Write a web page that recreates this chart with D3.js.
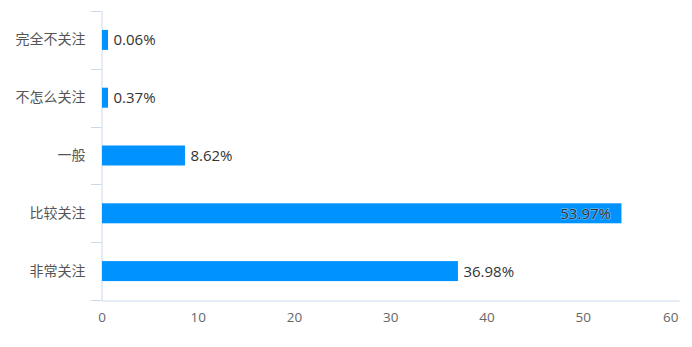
<!DOCTYPE html>
<html><head><meta charset="utf-8">
<script src="https://cdn.jsdelivr.net/npm/d3@7"></script>
<style>
html,body{margin:0;padding:0;background:#fff;}
text{font-family:"Open Sans","Noto Sans CJK SC",sans-serif;}
</style></head>
<body><svg id="c" width="692" height="347"></svg>
<script>
const categories = ["完全不关注","不怎么关注","一般","比较关注","非常关注"];
const values = [0.06, 0.37, 8.62, 53.97, 36.98];
const xTicks = [0,10,20,30,40,50,60];

const svg = d3.select("#c");
const m = {left:101.5, right:679, top:11, bottom:300};
const x = d3.scaleLinear().domain([0,60]).range([m.left, m.right]);
const y = d3.scaleBand().domain(categories).range([m.top, m.bottom]).paddingInner(0).paddingOuter(0);
const axisColor = "#c9d8ea";
const barH = 20;

// y axis
const yAxis = d3.axisLeft(y).tickSize(0).tickPadding(16);
const gy = svg.append("g").attr("transform",`translate(${m.left},0)`).call(yAxis);
gy.select(".domain").attr("stroke",axisColor);
gy.selectAll(".tick text").attr("font-size",14).attr("fill","#555");
// boundary ticks
const bounds = categories.map(c=>y(c)).concat([m.bottom]);
svg.append("g").selectAll("line").data(bounds).join("line")
  .attr("x1",91).attr("x2",m.left).attr("y1",d=>Math.round(d)+0.5).attr("y2",d=>Math.round(d)+0.5)
  .attr("stroke",axisColor);

// x axis
const xAxis = d3.axisBottom(x).tickValues(xTicks).tickSize(0).tickPadding(12);
const gx = svg.append("g").attr("transform",`translate(0,${m.bottom+0.5})`).call(xAxis);
gx.select(".domain").attr("stroke",axisColor);
gx.selectAll(".tick text").attr("font-size",13.5).attr("fill","#666");
gx.selectAll(".tick").filter(d=>d===60).select("text").attr("text-anchor","end").attr("dx",-1);

// bars
const bars = svg.append("g").selectAll("rect").data(values).join("rect")
  .attr("x", x(0)+0.5)
  .attr("y", (d,i)=>y(categories[i]) + y.bandwidth()/2 - barH/2)
  .attr("width", d=>Math.max(x(d)-x(0), 6))
  .attr("height", barH)
  .attr("fill","#0092ff");

// labels
svg.append("g").selectAll("text").data(values).join("text")
  .attr("y",(d,i)=>y(categories[i]) + y.bandwidth()/2)
  .attr("dy","0.36em")
  .attr("font-size",15)
  .attr("fill","#333")
  .each(function(d){
    const end = x(0) + Math.max(x(d)-x(0),6);
    const sel = d3.select(this).text(d.toFixed(2)+"%");
    if (d > 45) {
      sel.attr("x", end-10).attr("text-anchor","end")
         .attr("stroke","rgba(255,255,255,0.35)").attr("stroke-width",1.5).attr("paint-order","stroke");
    } else {
      sel.attr("x", end+6).attr("text-anchor","start");
    }
  });
</script></body></html>
